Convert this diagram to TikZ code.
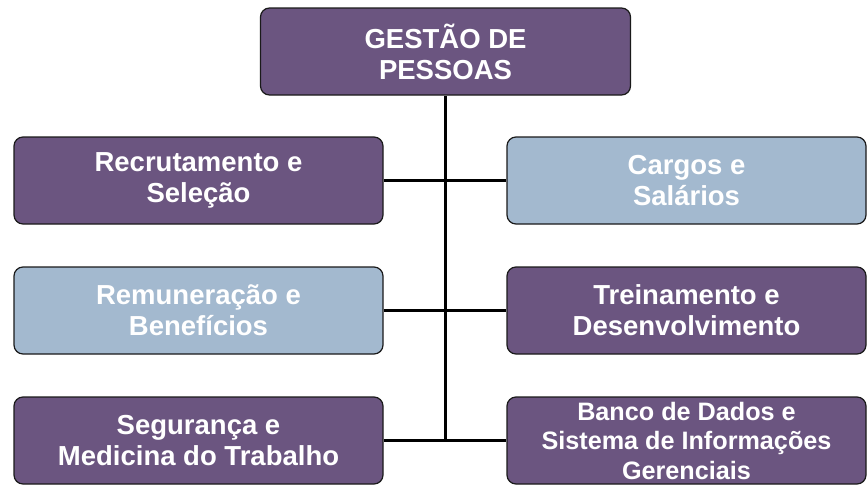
\documentclass[tikz,border=0pt]{standalone}
\usepackage{fontspec}
\setmainfont{Liberation Sans}
\definecolor{boxpurple}{HTML}{6B5580}
\definecolor{boxblue}{HTML}{A3B9CF}
\definecolor{boxedge}{HTML}{1A1A1A}
\tikzset{
  orgbox/.style={draw=boxedge, line width=1.2pt, rounded corners=9pt, align=center,
    text=white, inner sep=0pt, minimum width=369pt, minimum height=87pt,
    font=\fontsize{27.5}{31}\selectfont\bfseries},
  purplebox/.style={orgbox, fill=boxpurple},
  bluebox/.style={orgbox, fill=boxblue},
  conn/.style={draw=black, line width=2.6pt}
}
\begin{document}
\begin{tikzpicture}[x=1pt,y=-1pt]
\useasboundingbox (0,0) rectangle (868,485);
\node[purplebox, minimum width=370pt] (top) at (445.5,51.5) {GESTÃO DE\\PESSOAS};
\node[purplebox] (l1) at (198.5,180.5) {Recrutamento e\\Seleção};
\node[bluebox, minimum width=359pt] (r1) at (686.5,180.5) {Cargos e\\Salários};
\node[bluebox] (l2) at (198.5,310.5) {Remuneração e\\Benefícios};
\node[purplebox, minimum width=359pt] (r2) at (686.5,310.5) {Treinamento e\\Desenvolvimento};
\node[purplebox] (l3) at (198.5,440.5) {Segurança e\\Medicina do Trabalho};
\node[purplebox, minimum width=359pt, font=\fontsize{25.2}{29.5}\selectfont\bfseries] (r3) at (686.5,440.5) {Banco de Dados e\\Sistema de Informações\\Gerenciais};
\coordinate (j3) at (top.south |- l3.east);
\draw[conn] (top.south) -- (j3);
\draw[conn] (l1.east) -- (r1.west);
\draw[conn] (l2.east) -- (r2.west);
\draw[conn] (l3.east) -- (r3.west);
\end{tikzpicture}
\end{document}
